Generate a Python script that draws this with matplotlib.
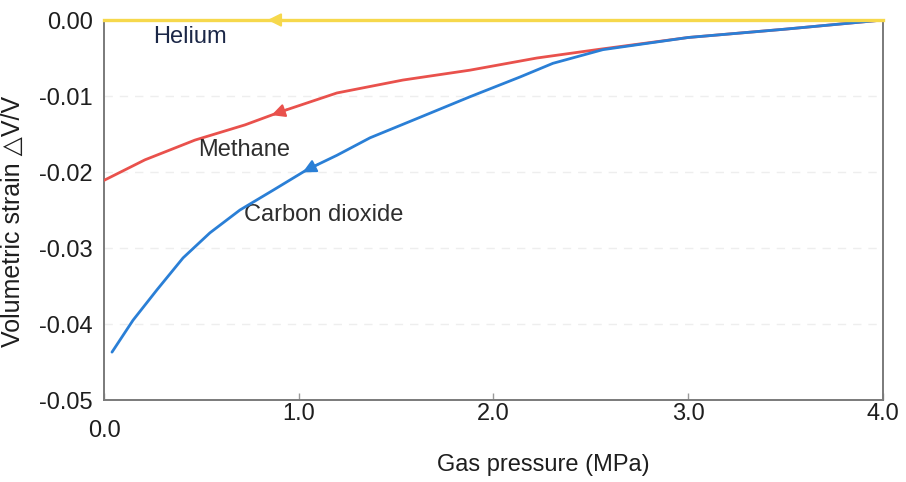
import numpy as np
import matplotlib
matplotlib.use("Agg")
import matplotlib.pyplot as plt

plt.rcParams['font.family'] = ['Liberation Sans', 'DejaVu Sans']

# Volumetric strain versus gas pressure (desorption paths, pressure falling)
helium_p = [0.0, 4.0]
helium_strain = [0.0, 0.0]

methane_p = [0.0, 0.21, 0.467, 0.724, 0.904, 1.196, 1.535, 1.879, 2.223,
             2.531, 3.0, 3.5, 4.0]
methane_strain = [-0.0211, -0.0184, -0.0158, -0.0138, -0.0121, -0.0096,
                  -0.0079, -0.0066, -0.0050, -0.0039, -0.0023, -0.0012, 0.0]

co2_p = [0.041, 0.149, 0.272, 0.406, 0.544, 0.698, 0.868, 1.042, 1.196,
         1.366, 1.623, 1.879, 2.136, 2.305, 2.562, 3.0, 3.5, 4.0]
co2_strain = [-0.0437, -0.0395, -0.0355, -0.0313, -0.0280, -0.0250, -0.0224,
              -0.0197, -0.0178, -0.0155, -0.0128, -0.0101, -0.0075, -0.0057,
              -0.0039, -0.0023, -0.0012, 0.0]

x_ticks = [0.0, 1.0, 2.0, 3.0, 4.0]
x_ticklabels = ['0.0', '1.0', '2.0', '3.0', '4.0']
y_ticks = [0.0, -0.01, -0.02, -0.03, -0.04, -0.05]
y_ticklabels = ['0.00', '-0.01', '-0.02', '-0.03', '-0.04', '-0.05']

# arrow tip positions along each curve
arrow_tips = {'helium': 0.84, 'methane': 0.86, 'co2': 1.02}

c_he = '#f6d84c'
c_ch4 = '#e9514c'
c_co2 = '#2a7fd6'

fig = plt.figure(figsize=(9.06, 4.82), dpi=100)
ax = fig.add_axes([0.1148, 0.1701, 0.8598, 0.7884])

ax.set_xlim(0, 4.0)
ax.set_ylim(-0.05, 0.0)

ax.grid(axis='y', color='#eeeeee', ls=(0, (6, 5)), lw=1.0)
ax.set_axisbelow(True)

ax.plot(methane_p, methane_strain, color=c_ch4, lw=2.0, zorder=3,
        solid_capstyle='round', solid_joinstyle='round')
ax.plot(co2_p, co2_strain, color=c_co2, lw=2.0, zorder=4,
        solid_capstyle='round', solid_joinstyle='round')
ax.plot(helium_p, helium_strain, color=c_he, lw=2.4, zorder=5,
        clip_on=False)


def add_arrow(px, py, tip, color):
    tail = tip + 0.08
    y_tip = np.interp(tip, px, py)
    y_tail = np.interp(tail, px, py)
    ax.annotate('', xy=(tip, y_tip), xytext=(tail, y_tail),
                arrowprops=dict(arrowstyle='-|>', color=color, lw=1.5,
                                mutation_scale=20, shrinkA=0, shrinkB=0),
                zorder=6, annotation_clip=False)


add_arrow(helium_p, helium_strain, arrow_tips['helium'], c_he)
add_arrow(methane_p, methane_strain, arrow_tips['methane'], c_ch4)
add_arrow(co2_p, co2_strain, arrow_tips['co2'], c_co2)

ax.text(0.44, -0.0022, 'Helium', fontsize=17, color='#1b2747',
        ha='center', va='center')
ax.text(0.72, -0.0171, 'Methane', fontsize=17, color='#2e2e2e',
        ha='center', va='center')
ax.text(1.13, -0.0257, 'Carbon dioxide', fontsize=17, color='#2e2e2e',
        ha='center', va='center')

for side in ['left', 'bottom', 'right']:
    ax.spines[side].set_color('#7a7a7a')
    ax.spines[side].set_linewidth(1.4)
ax.spines['top'].set_visible(False)

ax.set_yticks(y_ticks)
ax.set_yticklabels(y_ticklabels)
ax.set_xticks(x_ticks)
ax.set_xticklabels([''] + x_ticklabels[1:])
ax.tick_params(axis='y', length=0, pad=8, labelsize=17, labelcolor='#1e1e1e')
ax.tick_params(axis='x', direction='in', length=5, width=1, color='#9a9a9a',
               pad=2, labelsize=17, labelcolor='#1e1e1e')
ax.tick_params(axis='x', which='both', top=False)

# first x tick label sits lower, below the corner label of the y axis
ax.text(x_ticks[0], -0.081, x_ticklabels[0], transform=ax.get_xaxis_transform(),
        ha='center', va='center', fontsize=17, color='#1e1e1e')

ax.set_xlabel('Gas pressure (MPa)', fontsize=17, color='#1e1e1e')
ax.xaxis.set_label_coords(0.564, -0.171)
ax.xaxis.label.set_va('center')
ax.set_ylabel('Volumetric strain \u25b3V/V', fontsize=18, color='#1e1e1e')
ax.yaxis.set_label_coords(-0.117, 0.47)
ax.yaxis.label.set_va('center')

fig.savefig('out.png', dpi=100, facecolor='white')
